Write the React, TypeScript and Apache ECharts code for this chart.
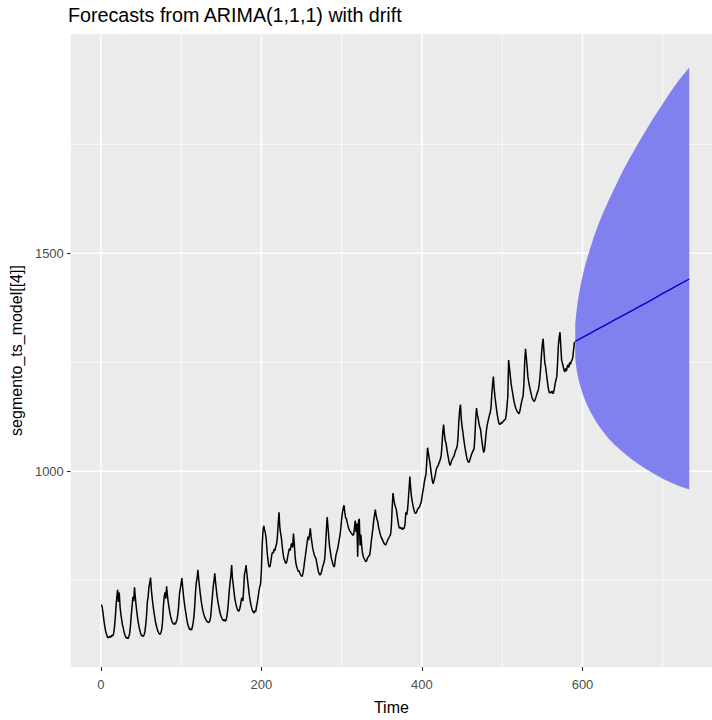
import React, { useEffect, useRef } from "react";
import * as echarts from "echarts";

// Observed series, one value per time step starting at t = 1
const observed = [
  694, 686, 672, 657, 644, 634, 627, 621, 618, 619,
  622, 619, 621, 624, 622, 628, 641, 662, 690, 712,
  728, 700, 722, 690, 672, 660, 648, 640, 632, 625,
  620, 617, 619, 616, 621, 628, 646, 670, 690, 712,
  702, 734, 712, 692, 676, 662, 650, 640, 633, 626,
  622, 624, 621, 625, 632, 648, 668, 700, 712, 735,
  744, 756, 728, 710, 694, 680, 668, 656, 648, 640,
  634, 630, 627, 626, 630, 638, 656, 690, 712, 722,
  708, 736, 716, 700, 688, 676, 667, 660, 654, 651,
  649, 652, 649, 655, 660, 672, 690, 718, 730, 741,
  755, 735, 715, 700, 686, 674, 662, 652, 645, 640,
  637, 638, 636, 642, 652, 666, 690, 722, 745, 755,
  774, 752, 735, 718, 704, 692, 682, 674, 668, 663,
  660, 656, 655, 653, 654, 658, 668, 690, 712, 735,
  748, 766, 745, 728, 712, 700, 690, 680, 672, 667,
  662, 659, 657, 660, 656, 658, 666, 680, 700, 725,
  744, 760, 785, 755, 740, 722, 708, 698, 690, 684,
  680, 679, 684, 692, 705, 710, 702, 730, 764, 772,
  785, 765, 748, 732, 716, 704, 694, 686, 680, 677,
  675, 680, 678, 690, 700, 712, 725, 735, 740, 770,
  830, 862, 875, 866, 858, 846, 820, 800, 785, 780,
  783, 795, 808, 815, 812, 822, 818, 828, 833, 850,
  880, 906, 872, 858, 846, 828, 812, 800, 796, 790,
  789, 795, 806, 815, 823, 818, 830, 835, 825, 857,
  835, 805, 790, 781, 776, 770, 772, 766, 762, 760,
  759, 768, 780, 795, 808, 822, 836, 850, 842, 855,
  869, 850, 836, 823, 815, 808, 803, 800, 790, 780,
  770, 765, 762, 764, 770, 778, 785, 790, 800, 830,
  865, 895, 872, 848, 827, 815, 802, 795, 788, 782,
  781, 795, 808, 815, 822, 832, 843, 853, 870, 890,
  905, 915, 922, 905, 893, 891, 882, 874, 868, 863,
  861, 858, 856, 853, 855, 870, 887, 860, 880, 804,
  885, 891, 830, 855, 828, 812, 804, 800, 796, 793,
  794, 800, 803, 806, 808, 822, 840, 855, 869, 888,
  900, 912, 898, 890, 884, 872, 864, 856, 850, 846,
  842, 838, 834, 832, 831, 836, 840, 845, 848, 852,
  855, 875, 918, 950, 935, 925, 918, 914, 900, 888,
  876, 869, 872, 868, 870, 866, 871, 869, 880, 906,
  900, 910, 932, 960, 988, 960, 942, 930, 920, 912,
  906, 903, 905, 910, 914, 916, 918, 924, 928, 940,
  952, 962, 975, 985, 992, 1020, 1054, 1042, 1030, 1020,
  1005, 990, 978, 971, 978, 986, 995, 1005, 1010, 1012,
  1018, 1022, 1028, 1036, 1060, 1090, 1107, 1085, 1070, 1065,
  1052, 1040, 1030, 1020, 1013, 1018, 1024, 1028, 1032, 1035,
  1042, 1048, 1052, 1058, 1078, 1115, 1140, 1153, 1120, 1103,
  1090, 1075, 1062, 1050, 1040, 1030, 1024, 1020, 1022, 1028,
  1034, 1040, 1044, 1048, 1052, 1080, 1120, 1145, 1130, 1122,
  1110, 1102, 1096, 1080, 1065, 1052, 1043, 1050, 1068, 1088,
  1103, 1112, 1120, 1128, 1134, 1145, 1175, 1200, 1217, 1190,
  1170, 1156, 1140, 1128, 1118, 1110, 1107, 1109, 1112, 1110,
  1114, 1116, 1118, 1119, 1130, 1150, 1172, 1255, 1238, 1220,
  1202, 1190, 1180, 1168, 1158, 1150, 1144, 1140, 1136, 1134,
  1132, 1138, 1148, 1158, 1166, 1172, 1200, 1250, 1281, 1262,
  1240, 1217, 1205, 1195, 1186, 1178, 1170, 1165, 1162, 1160,
  1164, 1170, 1176, 1182, 1187, 1198, 1215, 1240, 1270, 1292,
  1304, 1275, 1250, 1240, 1225, 1210, 1196, 1185, 1179, 1182,
  1180, 1184, 1178, 1181, 1190, 1202, 1210, 1217, 1250, 1290,
  1308, 1319, 1285, 1255, 1248, 1240, 1232, 1228, 1236, 1230,
  1240, 1244, 1238, 1250, 1245, 1252, 1255, 1262, 1280, 1297,
];
const firstTime = 1;

// Point forecasts and 95% prediction interval
const forecastTime = [591, 592, 593, 594, 596, 598, 600, 603, 606, 610, 615, 620, 626, 633, 640, 650, 660, 670, 680, 690, 700, 710, 720, 733];
const forecastMean = [1298, 1299, 1300, 1301, 1303, 1305, 1307, 1310, 1313, 1317, 1322, 1327, 1333, 1340, 1347, 1357, 1367, 1377, 1387, 1397, 1408, 1418, 1428, 1441];
const forecastLower = [1258, 1242, 1230, 1220, 1204, 1191, 1179, 1164, 1151, 1136, 1120, 1105, 1090, 1074, 1061, 1044, 1029, 1016, 1004, 993, 983, 974, 966, 958];
const forecastUpper = [1339, 1358, 1374, 1388, 1410, 1430, 1447, 1470, 1490, 1514, 1542, 1567, 1594, 1623, 1650, 1688, 1722, 1754, 1785, 1815, 1843, 1871, 1897, 1926];

// Axis breaks
const xLabelTicks = [0, 200, 400, 600];
const xMinorBreaks = [100, 300, 500, 700];
const yLabelTicks = [1000, 1500];
const yMinorBreaks = [750, 1250, 1750];

const X_MIN = -37.3;
const X_MAX = 761.3;
const Y_MIN = 551;
const Y_MAX = 2003;

const FONT = "'Liberation Sans', Arial, sans-serif";

function gridLines(values: number[], dir: "x" | "y", width: number) {
  return {
    type: "custom",
    silent: true,
    z: 1,
    data: values.map((v) => (dir === "x" ? [v, Y_MIN] : [X_MIN, v])),
    renderItem: (params: any, api: any) => {
      const cs = params.coordSys;
      const p = api.coord([api.value(0), api.value(1)]);
      const shape =
        dir === "x"
          ? { x1: p[0], y1: cs.y, x2: p[0], y2: cs.y + cs.height }
          : { x1: cs.x, y1: p[1], x2: cs.x + cs.width, y2: p[1] };
      return { type: "line", shape, style: { stroke: "#FFFFFF", lineWidth: width } };
    },
  };
}

export default function App() {
  const ref = useRef<HTMLDivElement>(null);

  useEffect(() => {
    if (!ref.current) return;
    const chart = echarts.init(ref.current, undefined, { renderer: "svg" });

    const observedData = observed.map((v, i) => [firstTime + i, v]);
    const meanData = forecastTime.map((t, i) => [t, forecastMean[i]]);
    const bandRows = forecastTime.map((t, i) => [t, forecastLower[i], forecastUpper[i]]);

    chart.setOption({
      animation: false,
      backgroundColor: "#FFFFFF",
      textStyle: { fontFamily: FONT },
      title: {
        text: "Forecasts from ARIMA(1,1,1) with drift",
        left: 68,
        top: 5,
        padding: 0,
        textStyle: { fontFamily: FONT, fontSize: 19.7, fontWeight: "normal", color: "#000000" },
      },
      grid: {
        left: 69,
        right: 0,
        top: 34,
        bottom: 47,
        show: true,
        backgroundColor: "#EBEBEB",
        borderWidth: 0,
      },
      xAxis: {
        type: "value",
        min: X_MIN,
        max: X_MAX,
        name: "Time",
        nameLocation: "middle",
        nameGap: 32,
        nameTextStyle: { fontFamily: FONT, fontSize: 16, color: "#000000" },
        axisLine: { show: false, onZero: false },
        splitLine: { show: false },
        axisTick: {
          show: true,
          length: 4,
          customValues: xLabelTicks,
          lineStyle: { color: "#333333", width: 1.1 },
        },
        axisLabel: {
          customValues: xLabelTicks,
          margin: 11,
          fontFamily: FONT,
          fontSize: 13,
          color: "#4D4D4D",
          formatter: (v: number) => String(v),
        },
      },
      yAxis: {
        type: "value",
        min: Y_MIN,
        max: Y_MAX,
        name: "segmento_ts_model[[4]]",
        nameLocation: "middle",
        nameRotate: 90,
        nameGap: 43,
        nameTextStyle: { fontFamily: FONT, fontSize: 16, color: "#000000" },
        axisLine: { show: false, onZero: false },
        splitLine: { show: false },
        axisTick: {
          show: true,
          length: 4,
          customValues: yLabelTicks,
          lineStyle: { color: "#333333", width: 1.1 },
        },
        axisLabel: {
          customValues: yLabelTicks,
          margin: 7,
          fontFamily: FONT,
          fontSize: 13,
          color: "#4D4D4D",
          formatter: (v: number) => String(v),
        },
      },
      series: [
        gridLines(xMinorBreaks, "x", 0.8),
        gridLines(yMinorBreaks, "y", 0.8),
        gridLines(xLabelTicks, "x", 1.6),
        gridLines(yLabelTicks, "y", 1.6),
        {
          // prediction interval ribbon, drawn as one polygon through the bounds
          type: "custom",
          name: "interval",
          silent: true,
          z: 2,
          data: bandRows,
          encode: { x: 0, y: [1, 2] },
          renderItem: (params: any, api: any) => {
            if (params.dataIndex !== 0) return null;
            const upper = bandRows.map((r) => api.coord([r[0], r[2]]));
            const lower = bandRows.map((r) => api.coord([r[0], r[1]])).reverse();
            return {
              type: "polygon",
              shape: { points: upper.concat(lower) },
              style: { fill: "#8080EF", stroke: "none" },
            };
          },
        },
        {
          type: "line",
          name: "observed",
          data: observedData,
          symbol: "none",
          silent: true,
          z: 3,
          lineStyle: { color: "#000000", width: 1.5 },
        },
        {
          type: "line",
          name: "forecast",
          data: meanData,
          symbol: "none",
          silent: true,
          z: 4,
          lineStyle: { color: "#0000CC", width: 1.4 },
        },
      ],
    });

    return () => chart.dispose();
  }, []);

  return (
    <div
      ref={ref}
      style={{ position: "fixed", left: 0, top: 0, width: 712, height: 720 }}
    />
  );
}
